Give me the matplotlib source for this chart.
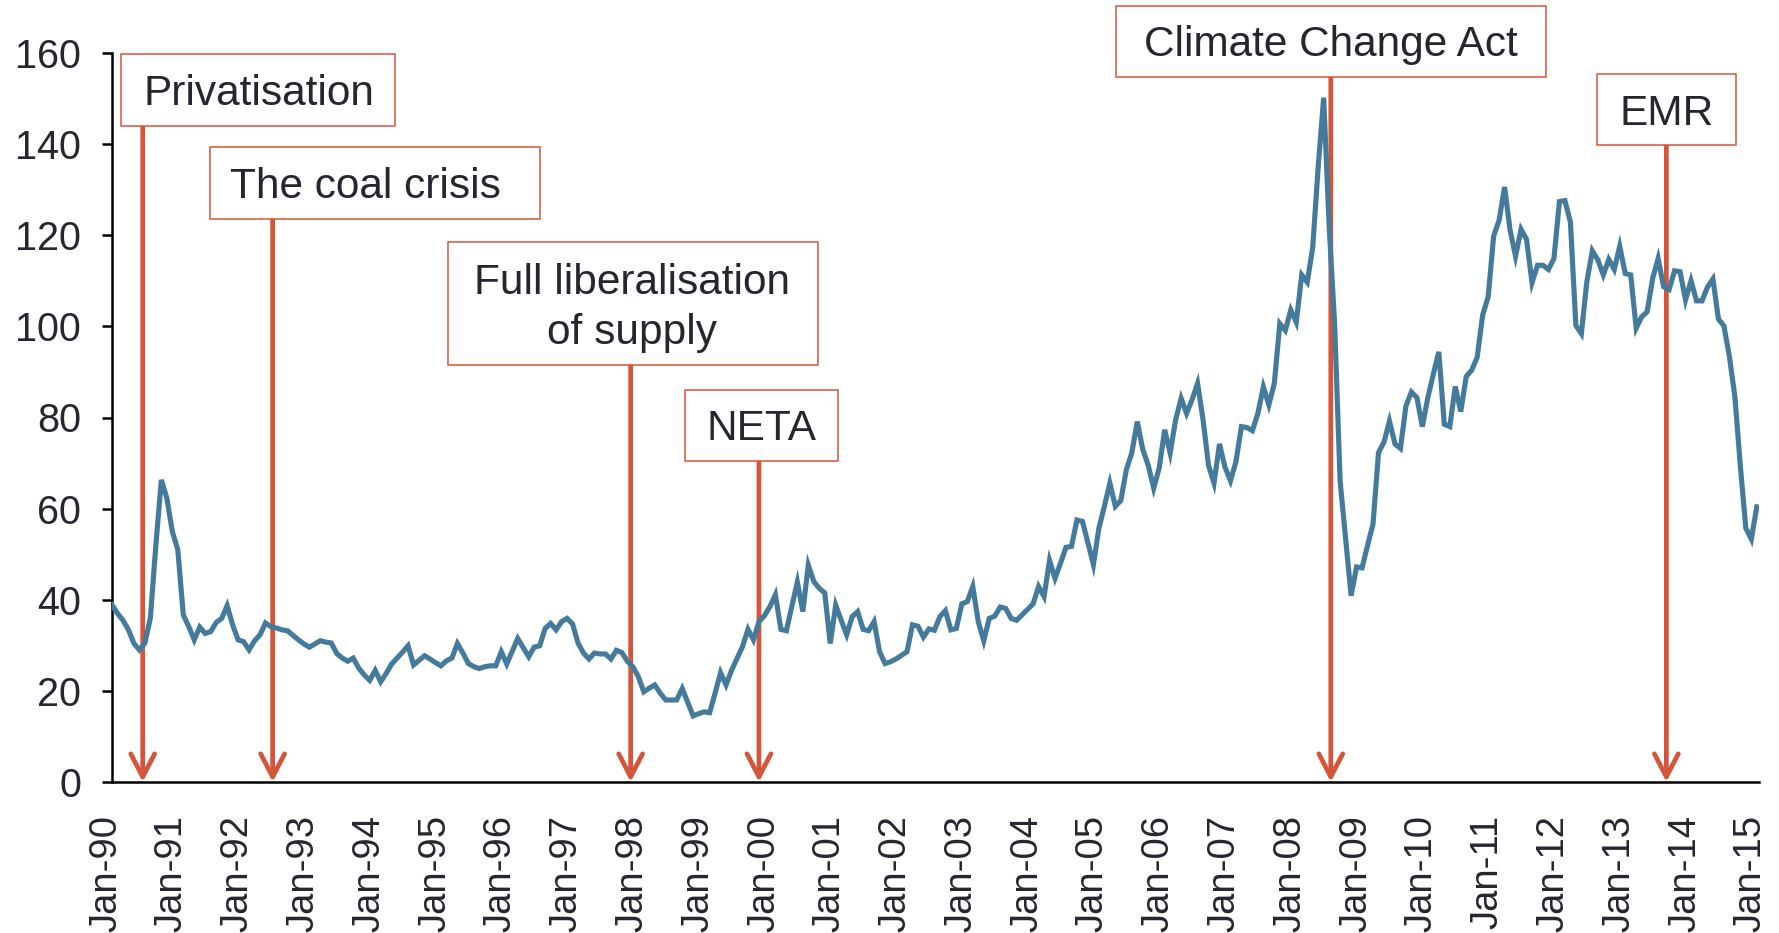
import matplotlib
matplotlib.use('Agg')
import matplotlib.pyplot as plt
import matplotlib.transforms as mtransforms
from matplotlib.patches import Rectangle

plt.rcParams['font.family'] = ['Liberation Sans', 'DejaVu Sans']

# monthly index, Jan-90 .. Jan-15 (one row per year)
price = [
    38.9, 37.0, 35.5, 33.4, 30.4, 29.0, 30.5, 36.0, 52.0, 66.3, 62.3, 55.0,
    51.0, 36.7, 34.1, 31.2, 34.0, 32.6, 33.0, 35.0, 35.9, 38.7, 34.5, 31.2,
    30.8, 29.0, 31.0, 32.3, 34.9, 34.1, 33.8, 33.4, 33.2, 32.2, 31.2, 30.3,
    29.6, 30.3, 31.0, 30.7, 30.5, 28.2, 27.2, 26.5, 27.2, 25.0, 23.5, 22.3,
    24.5, 22.0, 23.8, 25.9, 27.2, 28.5, 29.9, 25.7, 26.7, 27.7, 27.0, 26.2,
    25.5, 26.6, 27.2, 30.4, 28.3, 26.0, 25.3, 24.9, 25.3, 25.5, 25.5, 28.6,
    25.9, 28.7, 31.5, 29.5, 27.5, 29.6, 29.9, 33.7, 34.8, 33.4, 35.2, 35.9,
    34.7, 30.5, 28.3, 27.0, 28.3, 28.1, 28.1, 27.0, 28.9, 28.4, 26.5, 25.3,
    23.1, 19.8, 20.6, 21.3, 19.5, 18.0, 18.0, 18.0, 20.5, 17.5, 14.5, 15.0,
    15.4, 15.2, 19.5, 24.0, 21.3, 24.5, 27.1, 29.7, 33.5, 31.2, 35.2, 36.5,
    38.5, 41.1, 33.5, 33.2, 38.5, 43.9, 37.4, 47.6, 44.0, 42.5, 41.5, 30.4,
    38.8, 35.5, 32.3, 36.3, 37.4, 33.5, 33.2, 35.2, 28.6, 26.0, 26.4, 27.0,
    27.8, 28.6, 34.5, 34.2, 31.8, 33.6, 33.3, 36.3, 37.6, 33.4, 33.7, 39.1,
    39.6, 42.9, 35.2, 31.0, 35.9, 36.4, 38.4, 38.1, 35.9, 35.5, 36.7, 37.9,
    39.1, 42.9, 40.7, 48.6, 44.7, 48.0, 51.5, 51.7, 57.5, 57.2, 52.5, 47.7,
    55.7, 60.5, 65.6, 60.5, 61.8, 68.5, 72.2, 79.1, 73.0, 69.5, 64.5, 68.9,
    77.3, 72.2, 79.5, 84.2, 80.9, 83.9, 87.5, 79.5, 69.5, 65.6, 74.2, 69.1,
    66.1, 70.3, 78.0, 77.8, 77.1, 80.9, 86.7, 82.8, 87.5, 100.6, 99.1, 103.6,
    100.9, 111.3, 109.7, 117.3, 135.0, 150.2, 122.0, 100.5, 66.0, 53.4, 40.9, 47.2,
    47.0, 51.9, 56.6, 72.3, 74.6, 79.2, 74.2, 73.2, 82.5, 85.6, 84.4, 78.0,
    84.4, 89.5, 94.4, 78.5, 78.0, 86.8, 81.3, 89.0, 90.4, 93.2, 102.5, 106.5,
    119.8, 123.3, 130.6, 121.1, 115.4, 121.3, 119.1, 109.6, 113.4, 113.4, 112.5, 114.9,
    127.4, 127.6, 122.9, 100.2, 98.4, 109.8, 116.6, 114.6, 111.3, 114.7, 112.5, 117.6,
    111.6, 111.3, 99.6, 102.1, 103.2, 110.5, 114.9, 108.7, 108.1, 112.2, 112.0, 105.8,
    110.0, 105.6, 105.6, 108.6, 110.4, 101.6, 100.1, 93.4, 84.6, 69.3, 55.7, 53.3,
    60.4,
]
year_labels = ['Jan-%02d' % (y % 100) for y in range(1990, 2016)]

event_names = ['Privatisation', 'The coal crisis', 'Full liberalisation\nof supply',
               'NETA', 'Climate Change Act', 'EMR']
event_month = [5.6, 29.3, 94.6, 118.0, 222.3, 283.5]

# label boxes (left, right, bottom, top) in data units, plus text centre x
boxes = [
    (1.6, 51.6, 144.0, 159.8),
    (17.9, 78.1, 123.6, 139.3),
    (61.2, 128.7, 91.5, 118.5),
    (104.6, 132.4, 70.5, 86.0),
    (183.2, 261.6, 154.8, 170.4),
    (270.9, 296.2, 139.7, 155.4),
]
text_x = [26.8, 46.2, 94.9, 118.5, 222.4, 283.5]

LINE = '#447A9C'
RED = '#D4553A'
TEXT = '#262630'

fig = plt.figure(figsize=(17.79, 9.33), dpi=100)
ax = fig.add_axes([112 / 1779, 151 / 933, 1647 / 1779, 729 / 933])

months = range(len(price))
ax.plot(months, price, color=LINE, lw=3.7, zorder=3, solid_joinstyle='miter')

ax.set_xlim(0, 300.4)
ax.set_ylim(0, 160)
ax.set_yticks(range(0, 161, 20))
ax.set_xticks(range(0, 301, 12))
ax.set_xticklabels(year_labels, rotation=90)

for s in ['top', 'right']:
    ax.spines[s].set_visible(False)
for s in ['left', 'bottom']:
    ax.spines[s].set_linewidth(1.8)
    ax.spines[s].set_color('black')

ax.tick_params(axis='y', length=7.2, width=1.8, pad=15, labelsize=28.5, labelcolor=TEXT)
ax.tick_params(axis='x', length=0, pad=24, labelsize=27.5, labelcolor=TEXT)

shift = mtransforms.ScaledTranslation(-6 / 100, 0, fig.dpi_scale_trans)
for lab in ax.get_xticklabels():
    lab.set_transform(lab.get_transform() + shift)

text_shift = mtransforms.ScaledTranslation(0, -4 / 100, fig.dpi_scale_trans)
for name, m, (x0, x1, y0, y1), tx in zip(event_names, event_month, boxes, text_x):
    ax.annotate('', xy=(m, 0), xytext=(m, y0),
                arrowprops=dict(arrowstyle='->,head_length=0.83,head_width=0.43',
                                color=RED, lw=3.4, shrinkA=0, shrinkB=0,
                                mutation_scale=20),
                zorder=2, annotation_clip=False)
    ax.add_patch(Rectangle((x0, y0), x1 - x0, y1 - y0, facecolor='white',
                           edgecolor=RED, lw=1.1, zorder=5, clip_on=False))
    ax.text(tx, (y0 + y1) / 2, name, ha='center', va='center',
            fontsize=30.5, color=TEXT, zorder=6, linespacing=1.32,
            transform=ax.transData + text_shift)

fig.savefig('out.png', dpi=100)
